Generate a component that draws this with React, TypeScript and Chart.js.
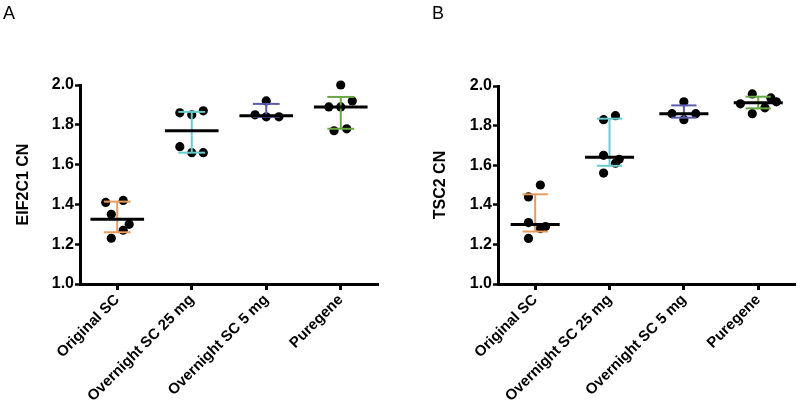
import React, { useEffect, useRef } from "react";
import { Chart, registerables } from "chart.js";

Chart.register(...registerables);

const categories = ["Original SC", "Overnight SC 25 mg", "Overnight SC 5 mg", "Puregene"];
const yTickValues = [1.0, 1.2, 1.4, 1.6, 1.8, 2.0];

// Panel A: EIF2C1 CN
const eif2c1Points = [
  [1.41, 1.42, 1.35, 1.3, 1.27, 1.23],
  [1.86, 1.87, 1.85, 1.69, 1.66, 1.66],
  [1.92, 1.85, 1.84, 1.84],
  [2.0, 1.92, 1.89, 1.89, 1.77, 1.78],
];
const eif2c1Jitter = [
  [-0.155, 0.08, -0.08, 0.16, 0.08, -0.08],
  [-0.16, 0.155, 0, -0.16, 0, 0.155],
  [0, -0.15, 0, 0.17],
  [0, 0.155, -0.16, 0, -0.09, 0.08],
];
const eif2c1Median = [1.325, 1.77, 1.845, 1.89];
const eif2c1Q1 = [1.26, 1.66, 1.84, 1.78];
const eif2c1Q3 = [1.414, 1.865, 1.905, 1.94];

// Panel B: TSC2 CN
const tsc2Points = [
  [1.44, 1.5, 1.31, 1.29, 1.28, 1.23],
  [1.83, 1.85, 1.65, 1.63, 1.61, 1.56],
  [1.92, 1.86, 1.86, 1.83],
  [1.96, 1.91, 1.94, 1.92, 1.89, 1.86],
];
const tsc2Jitter = [
  [-0.09, 0.07, -0.09, 0.14, 0.07, -0.09],
  [-0.08, 0.08, -0.08, 0.13, 0.08, -0.08],
  [0, -0.16, 0.16, 0],
  [-0.08, -0.24, 0.17, 0.245, 0.09, -0.08],
];
const tsc2Median = [1.3, 1.64, 1.86, 1.915];
const tsc2Q1 = [1.265, 1.597, 1.84, 1.887];
const tsc2Q3 = [1.453, 1.835, 1.902, 1.946];

const barColors = ["#E99B5E", "#6ACCCC", "#5A5AA8", "#68A843"];
const FONT = '"Liberation Sans", Arial, Helvetica, sans-serif';

type PanelProps = {
  letter: string;
  letterX: number;
  title: string;
  points: number[][];
  jitter: number[][];
  median: number[];
  q1: number[];
  q3: number[];
  leftWidth: number;
  topPad: number;
  rightPad: number;
  titlePad: number;
  medHalf: number;
  capHalf: number;
};

function Panel(p: PanelProps) {
  const ref = useRef<HTMLCanvasElement | null>(null);
  useEffect(() => {
    if (!ref.current) return;
    const datasets: any[] = [];
    p.points.forEach((vals, i) => {
      datasets.push({
        data: vals.map((v, j) => ({ x: i + p.jitter[i][j], y: v })),
        showLine: false,
        pointRadius: 4.6,
        pointBackgroundColor: "#000",
        pointBorderWidth: 0,
        pointHoverRadius: 4.6,
        clip: false,
        order: 3,
      });
    });
    const seg = (x1: number, y1: number, x2: number, y2: number, color: string, w: number, order: number) => ({
      data: [
        { x: x1, y: y1 },
        { x: x2, y: y2 },
      ],
      showLine: true,
      borderColor: color,
      borderWidth: w,
      pointRadius: 0,
      pointHoverRadius: 0,
      borderCapStyle: "butt",
      clip: false,
      order,
    });
    categories.forEach((_, i) => {
      const c = barColors[i];
      datasets.push(seg(i, p.q1[i], i, p.q3[i], c, 2, 2));
      datasets.push(seg(i - p.capHalf, p.q3[i], i + p.capHalf, p.q3[i], c, 2, 2));
      datasets.push(seg(i - p.capHalf, p.q1[i], i + p.capHalf, p.q1[i], c, 2, 2));
      datasets.push(seg(i - p.medHalf, p.median[i], i + p.medHalf, p.median[i], "#000", 3, 1));
    });

    const letterPlugin = {
      id: "letter",
      afterDraw(chart: any) {
        const ctx = chart.ctx;
        ctx.save();
        ctx.font = `18px ${FONT}`;
        ctx.fillStyle = "#000";
        ctx.textBaseline = "alphabetic";
        ctx.textAlign = "left";
        ctx.fillText(p.letter, p.letterX, 19);
        ctx.restore();
      },
    };

    const chart = new Chart(ref.current, {
      type: "scatter",
      data: { datasets },
      plugins: [letterPlugin],
      options: {
        animation: false,
        responsive: false,
        devicePixelRatio: 1,
        events: [],
        layout: { padding: { left: 0, right: p.rightPad, top: p.topPad, bottom: 0 } },
        plugins: { legend: { display: false }, tooltip: { enabled: false } },
        scales: {
          x: {
            type: "linear",
            min: -0.5,
            max: 3.5,
            afterBuildTicks: (a: any) => {
              a.ticks = categories.map((_, i) => ({ value: i }));
            },
            afterFit: (s: any) => {
              s.height = 124;
            },
            ticks: {
              callback: (v: any) => categories[Math.round(Number(v))],
              minRotation: 45,
              maxRotation: 45,
              autoSkip: false,
              color: "#000",
              padding: 1,
              font: { family: FONT, weight: "bold", size: 15 },
            },
            grid: { drawOnChartArea: false, color: "#000", tickLength: 6, tickWidth: 3 },
            border: { color: "#000", width: 3 },
          },
          y: {
            type: "linear",
            min: 1,
            max: 2,
            afterBuildTicks: (a: any) => {
              a.ticks = yTickValues.map((v) => ({ value: v }));
            },
            afterFit: (s: any) => {
              s.width = p.leftWidth;
            },
            ticks: {
              callback: (v: any) => Number(v).toFixed(1),
              color: "#000",
              padding: 1,
              font: { family: FONT, weight: "bold", size: 16 },
            },
            title: {
              display: true,
              text: p.title,
              color: "#000",
              font: { family: FONT, weight: "bold", size: 16 },
              padding: { top: p.titlePad, bottom: 0 },
            },
            grid: { drawOnChartArea: false, color: "#000", tickLength: 5, tickWidth: 2.5 },
            border: { color: "#000", width: 3 },
          },
        },
      } as any,
    });
    return () => chart.destroy();
  }, []);
  return <canvas ref={ref} width={400} height={408} style={{ display: "block", width: 400, height: 408 }} />;
}

export default function App() {
  return (
    <div style={{ position: "absolute", left: 0, top: 0, width: 800, height: 408, display: "flex", background: "#fff" }}>
      <Panel
        letter="A"
        letterX={3}
        title="EIF2C1 CN"
        points={eif2c1Points}
        jitter={eif2c1Jitter}
        median={eif2c1Median}
        q1={eif2c1Q1}
        q3={eif2c1Q3}
        leftWidth={80}
        topPad={85}
        rightPad={22}
        titlePad={14}
        medHalf={0.36}
        capHalf={0.18}
      />
      <Panel
        letter="B"
        letterX={32}
        title="TSC2 CN"
        points={tsc2Points}
        jitter={tsc2Jitter}
        median={tsc2Median}
        q1={tsc2Q1}
        q3={tsc2Q3}
        leftWidth={98}
        topPad={86}
        rightPad={3}
        titlePad={31}
        medHalf={0.33}
        capHalf={0.17}
      />
    </div>
  );
}
